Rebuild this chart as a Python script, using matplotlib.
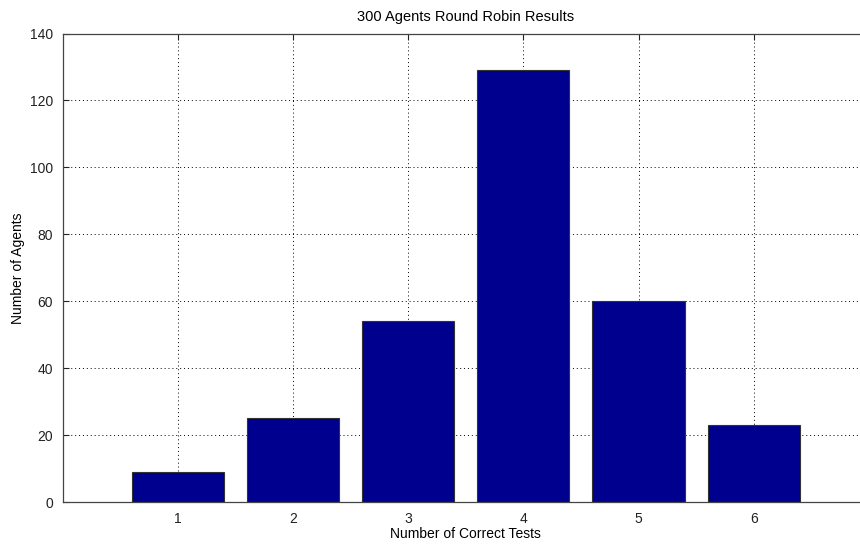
import matplotlib
matplotlib.use("Agg")
import matplotlib.pyplot as plt

# agents per number of correct tests
correct_tests = [1, 2, 3, 4, 5, 6]
num_agents = [9, 25, 54, 129, 60, 23]

plt.rcParams["font.family"] = ["Liberation Sans", "DejaVu Sans"]
plt.rcParams["font.size"] = 10

fig = plt.figure(figsize=(8.6, 5.46), dpi=100)
# axes run a little past the right edge of the figure
ax = fig.add_axes([62.5 / 860, 1 - 502 / 546, (869 - 62.5) / 860, (502 - 33.5) / 546])

ax.bar(correct_tests, num_agents, width=0.8, color="#00008f",
       edgecolor="#333333", linewidth=0.8, zorder=3)

ax.set_xlim(0, 7)
ax.set_ylim(0, 140)
ax.set_xticks(correct_tests)
ax.set_yticks(range(0, 141, 20))
ax.grid(True, linestyle=(0, (1, 3)), color="black", linewidth=0.7, zorder=0)
ax.tick_params(direction="in", top=True, right=False, length=4, colors="#222222")
ax.tick_params(axis="x", pad=7)
ax.tick_params(axis="y", pad=7)
for s in ax.spines.values():
    s.set_linewidth(0.9)
    s.set_color("#444444")
    s.set_zorder(4)
ax.spines["right"].set_visible(False)

ax.set_title("300 Agents Round Robin Results", fontsize=10.5, pad=9)
ax.set_xlabel("Number of Correct Tests", labelpad=1)
ax.set_ylabel("Number of Agents", labelpad=3)

fig.savefig("out.png", dpi=100)
